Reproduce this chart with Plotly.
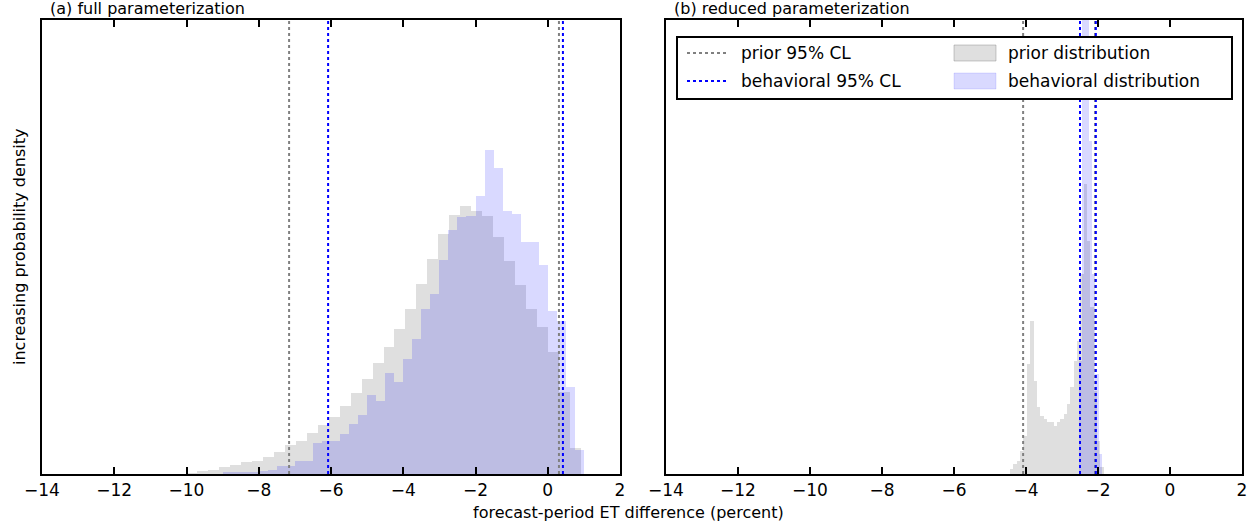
import numpy as np
import plotly.graph_objects as go

# panel (a) full parameterization - bar heights (arbitrary density units)
a_prior_start, a_prior_width = -10.0, 0.303
a_prior = [3, 10, 13, 20, 26, 35, 40, 52, 66, 86, 100, 124, 146, 172, 205, 244, 286, 334,
           382, 436, 496, 571, 646, 721, 778, 805, 790, 775, 712, 640, 568, 496, 442, 367, 247, 79]
a_behav_start, a_behav_width = -9.0, 0.25
a_behav = [5, 5, 5, 5, 10, 13, 23, 23, 40, 40, 94, 100, 100, 121, 151, 178, 238, 220, 304, 277,
           346, 406, 496, 541, 643, 733, 772, 775, 835, 973, 919, 790, 781, 697, 697, 628, 490,
           460, 262, 73]
a_prior_cl = [-7.16, 0.31]
a_behav_cl = [-6.08, 0.42]

# panel (b) reduced parameterization
b_prior_start, b_prior_width = -4.44, 0.0926
b_prior = [15, 30, 40, 70, 115, 330, 460, 280, 200, 175, 165, 155, 155, 145, 155, 165, 180,
           210, 260, 340, 400, 600, 870, 700, 500, 250, 100, 20]
b_behav_start, b_behav_width = -2.54, 0.0926
b_behav = [340, 1500, 1500, 1000, 600, 300, 60]
b_prior_cl = [-4.08, -2.08]
b_behav_cl = [-2.50, -2.06]

GREY = "rgba(128,128,128,0.25)"
BLUE = "rgba(0,0,255,0.15)"
FONT = "DejaVu Sans"

fig = go.Figure()


def centers(start, width, vals):
    return start + width * (np.arange(len(vals)) + 0.5)


for xa, ya, (ps, pw, pv), (bs, bw, bv) in [
    ("x", "y", (a_prior_start, a_prior_width, a_prior), (a_behav_start, a_behav_width, a_behav)),
    ("x2", "y2", (b_prior_start, b_prior_width, b_prior), (b_behav_start, b_behav_width, b_behav)),
]:
    fig.add_trace(go.Bar(x=centers(ps, pw, pv), y=pv, width=pw, marker=dict(color=GREY, line_width=0),
                         xaxis=xa, yaxis=ya, showlegend=False))
    fig.add_trace(go.Bar(x=centers(bs, bw, bv), y=bv, width=bw, marker=dict(color=BLUE, line_width=0),
                         xaxis=xa, yaxis=ya, showlegend=False))

shapes = []
for xref, yref, pcl, bcl in [("x", "y domain", a_prior_cl, a_behav_cl),
                             ("x2", "y2 domain", b_prior_cl, b_behav_cl)]:
    for v in pcl:
        shapes.append(dict(type="line", xref=xref, yref=yref, x0=v, x1=v, y0=0, y1=1,
                           line=dict(color="gray", width=2, dash="dot")))
    for v in bcl:
        shapes.append(dict(type="line", xref=xref, yref=yref, x0=v, x1=v, y0=0, y1=1,
                           line=dict(color="blue", width=2, dash="dot")))

# manual legend in panel (b)
W, H = 1256, 526
px = lambda x: x / W
py = lambda y: 1 - y / H
shapes.append(dict(type="rect", xref="paper", yref="paper", x0=px(677), x1=px(1232), y0=py(37), y1=py(99),
                   line=dict(color="black", width=2), fillcolor="white", layer="above"))
annotations = []
legend_items = [
    ("line", "gray", "prior 95% CL", 687, 53),
    ("line", "blue", "behavioral 95% CL", 687, 81),
    ("patch", GREY, "prior distribution", 954, 53),
    ("patch", BLUE, "behavioral distribution", 954, 81),
]
for kind, col, label, x0, yc in legend_items:
    if kind == "line":
        shapes.append(dict(type="line", xref="paper", yref="paper", x0=px(x0), x1=px(x0 + 42),
                           y0=py(yc), y1=py(yc), line=dict(color=col, width=2, dash="dot"), layer="above"))
    else:
        shapes.append(dict(type="rect", xref="paper", yref="paper", x0=px(x0), x1=px(x0 + 42),
                           y0=py(yc + 8), y1=py(yc - 8), fillcolor=col,
                           line=dict(color="rgba(128,128,128,0.4)" if col == GREY else "rgba(0,0,255,0.1)", width=1),
                           layer="above"))
    annotations.append(dict(xref="paper", yref="paper", x=px(x0 + 52), y=py(yc), text=label,
                            showarrow=False, xanchor="left", yanchor="middle", font=dict(size=17)))

annotations += [
    dict(xref="paper", yref="paper", x=px(48), y=py(20), text="(a) full parameterization",
         showarrow=False, xanchor="left", yanchor="bottom", font=dict(size=16)),
    dict(xref="paper", yref="paper", x=px(672), y=py(20), text="(b) reduced parameterization",
         showarrow=False, xanchor="left", yanchor="bottom", font=dict(size=16)),
    dict(xref="paper", yref="paper", x=0.5, y=py(512), text="forecast-period ET difference (percent)",
         showarrow=False, xanchor="center", yanchor="middle", font=dict(size=16)),
    dict(xref="paper", yref="paper", x=px(20), y=py(247), text="increasing probability density",
         showarrow=False, textangle=-90, xanchor="center", yanchor="middle", font=dict(size=16)),
]

xcommon = dict(range=[-14, 2], ticks="inside", ticklen=7, tickwidth=1.5, tickcolor="black",
               showline=True, linecolor="black", linewidth=2, mirror="ticks", showgrid=False,
               zeroline=False, tickfont=dict(size=17), automargin=False,
               tickvals=list(range(-14, 3, 2)),
               ticktext=["\u2212" + str(-v) if v < 0 else str(v) for v in range(-14, 3, 2)])
ycommon = dict(showticklabels=False, ticks="", showline=True, linecolor="black", linewidth=2,
               mirror=True, showgrid=False, zeroline=False, automargin=False,
               domain=[py(474), py(20)])

fig.update_layout(
    width=W, height=H, margin=dict(l=0, r=0, t=0, b=0, autoexpand=False),
    paper_bgcolor="white", plot_bgcolor="white", barmode="overlay", bargap=0,
    font=dict(family=FONT, color="black", size=16),
    xaxis=dict(xcommon, domain=[px(42), px(620)]),
    xaxis2=dict(xcommon, domain=[px(666), px(1242)], anchor="y2"),
    yaxis=dict(ycommon, range=[0, 1362]),
    yaxis2=dict(ycommon, range=[0, 1362], anchor="x2"),
    shapes=shapes, annotations=annotations,
)

fig.write_html("out.html", config={"displayModeBar": False},
               post_script="document.body.style.margin='0';")
